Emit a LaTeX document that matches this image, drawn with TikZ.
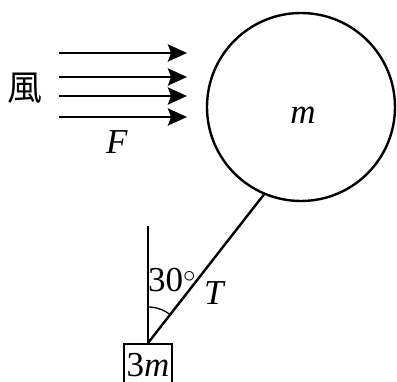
\documentclass[tikz,border=0pt]{standalone}
\usepackage{fontspec}
\setmainfont{Liberation Serif}
\newfontfamily\cjkfont{Noto Sans CJK TC}
\usetikzlibrary{arrows.meta,calc}
\begin{document}
\begin{tikzpicture}[x=1pt,y=1pt,
  ln/.style={line width=2.4pt},
  wind/.style={line width=2.6pt,-{Stealth[length=19pt,width=17pt,inset=3pt]}},
  lbl/.style={font=\fontsize{35}{38}\selectfont, inner sep=0pt}]
\useasboundingbox (0,0) rectangle (397,381);
\node[circle, draw, ln, minimum size=188pt, inner sep=0pt] (ball) at (301,274) {};
\node[lbl] (mm) at (303,266) {\textit{m}};
\node[draw, line width=1.6pt, minimum width=48pt, minimum height=44pt, inner sep=0pt, anchor=north] (blk) at (148,38) {};
\node[lbl, anchor=base] (lab3m) at (148,5) {3\textit{m}};
\coordinate (vtop) at (148,155);
\coordinate (rope) at (ball.247.7);
\draw[ln] (blk.north) -- (vtop);
\draw[ln] (blk.north) -- (rope);
\draw[line width=1.3pt] ($(blk.north)+(0,36)$) arc[start angle=90, end angle=51.2, radius=36];
\node[lbl] (ang) at (172,101) {30$^{\circ}$};
\node[lbl] (tt) at (215,88) {\textit{T}};
\coordinate (a1s) at (59,328); \coordinate (a1e) at (187,328);
\coordinate (a2s) at (59,304); \coordinate (a2e) at (187,304);
\coordinate (a3s) at (59,285); \coordinate (a3e) at (187,285);
\coordinate (a4s) at (59,264); \coordinate (a4e) at (187,264);
\draw[wind] (a1s) -- (a1e);
\draw[wind] (a2s) -- (a2e);
\draw[wind] (a3s) -- (a3e);
\draw[wind] (a4s) -- (a4e);
\node[lbl] (feng) at (25,293) {\cjkfont 風};
\node[lbl] (ff) at (117,239) {\textit{F}};
\end{tikzpicture}
\end{document}
